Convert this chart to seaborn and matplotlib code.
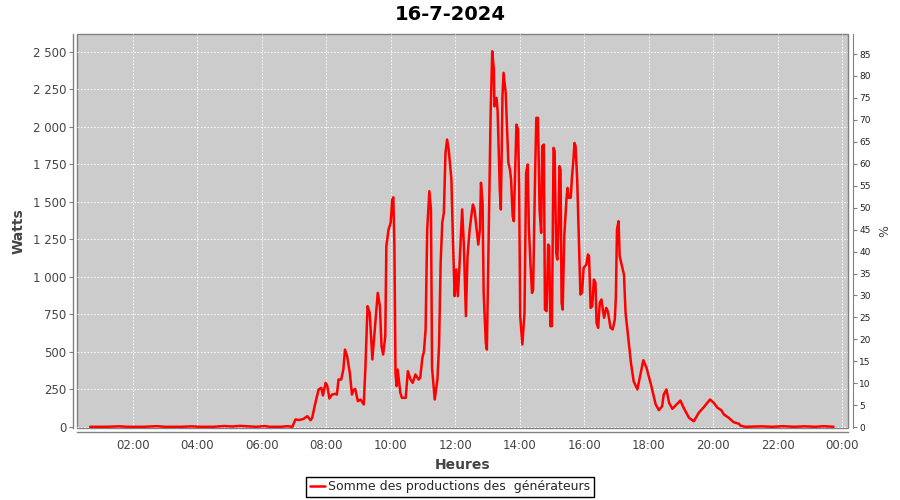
import matplotlib
matplotlib.use("Agg")
import matplotlib.pyplot as plt
import seaborn as sns
import pandas as pd
from matplotlib.ticker import FuncFormatter, FixedLocator, MultipleLocator

# --- données (heure, watts) ---
times = [
    "00:41", "01:10", "01:35", "01:50", "02:20", "02:45", "03:00", "03:30", "03:50", "04:05",
    "04:30", "04:50", "05:05", "05:20", "05:35", "05:50", "06:05", "06:15", "06:35", "06:48",
    "06:57", "07:03", "07:10", "07:18", "07:25", "07:31", "07:34", "07:40", "07:46", "07:51",
    "07:54", "07:59", "08:02", "08:06", "08:11", "08:17", "08:20", "08:23", "08:28", "08:32",
    "08:35", "08:39", "08:44", "08:48", "08:50", "08:54", "08:59", "09:04", "09:10", "09:13",
    "09:17", "09:21", "09:26", "09:32", "09:36", "09:40", "09:43", "09:46", "09:50", "09:52",
    "09:56", "10:00", "10:03", "10:05", "10:07", "10:09", "10:11", "10:13", "10:18", "10:21",
    "10:28", "10:32", "10:37", "10:41", "10:46", "10:52", "10:55", "10:59", "11:02", "11:05",
    "11:08", "11:12", "11:15", "11:17", "11:22", "11:27", "11:30", "11:33", "11:36", "11:39",
    "11:42", "11:45", "11:48", "11:53", "11:56", "11:59", "12:02", "12:05", "12:08", "12:13",
    "12:16", "12:20", "12:23", "12:27", "12:30", "12:33", "12:36", "12:40", "12:43", "12:46",
    "12:48", "12:51", "12:53", "12:57", "12:59", "13:03", "13:06", "13:09", "13:12", "13:13",
    "13:17", "13:19", "13:23", "13:25", "13:28", "13:30", "13:34", "13:39", "13:42", "13:44",
    "13:47", "13:49", "13:52", "13:54", "13:57", "13:59", "14:01", "14:05", "14:09", "14:12",
    "14:15", "14:17", "14:20", "14:23", "14:25", "14:29", "14:31", "14:34", "14:37", "14:40",
    "14:42", "14:45", "14:47", "14:50", "14:53", "14:55", "14:57", "15:00", "15:03", "15:05",
    "15:08", "15:10", "15:12", "15:14", "15:16", "15:18", "15:20", "15:23", "15:27", "15:29",
    "15:31", "15:35", "15:37", "15:40", "15:42", "15:44", "15:47", "15:50", "15:53", "15:56",
    "15:59", "16:04", "16:07", "16:09", "16:12", "16:15", "16:18", "16:21", "16:23", "16:26",
    "16:29", "16:32", "16:37", "16:41", "16:44", "16:49", "16:53", "16:57", "16:59", "17:01",
    "17:04", "17:06", "17:09", "17:14", "17:17", "17:19", "17:23", "17:27", "17:32", "17:39",
    "17:44", "17:50", "17:56", "18:05", "18:13", "18:19", "18:25", "18:28", "18:33", "18:38",
    "18:44", "18:52", "18:59", "19:05", "19:15", "19:24", "19:33", "19:43", "19:54", "20:01",
    "20:08", "20:15", "20:20", "20:29", "20:38", "20:48", "20:51", "21:00", "21:30", "21:50",
    "22:10", "22:30", "22:50", "23:10", "23:25", "23:44",
]
watts = [
    0, 0, 3, 0, 0, 4, 0, 0, 3, 0,
    0, 5, 2, 6, 3, 0, 5, 0, 0, 4,
    0, 49, 45, 53, 71, 44, 60, 160, 249, 260,
    209, 293, 275, 189, 215, 220, 215, 315, 315, 382,
    515, 471, 360, 215, 240, 253, 171, 182, 149, 393,
    804, 760, 449, 715, 893, 804, 537, 482, 604, 1204,
    1315, 1360, 1515, 1530, 1204, 360, 271, 382, 227, 193,
    193, 371, 315, 293, 349, 315, 327, 460, 504, 649,
    1315, 1571, 1449, 393, 182, 315, 537, 1093, 1360, 1427,
    1827, 1915, 1849, 1649, 1227, 871, 1049, 871, 1071, 1449,
    1227, 738, 1138, 1315, 1404, 1482, 1449, 1315, 1215, 1315,
    1627, 1493, 893, 560, 515, 1427, 2093, 2504, 2382, 2137,
    2193, 2104, 1582, 1449, 2204, 2360, 2227, 1760, 1715, 1649,
    1404, 1371, 1760, 2015, 1982, 1600, 738, 549, 760, 1693,
    1749, 1337, 1093, 893, 915, 1738, 2060, 2060, 1449, 1293,
    1871, 1882, 782, 771, 1215, 1204, 671, 671, 1860, 1838,
    1160, 1115, 1315, 1738, 1715, 827, 782, 1271, 1515, 1593,
    1527, 1527, 1649, 1782, 1893, 1871, 1649, 1271, 882, 893,
    1060, 1082, 1149, 1138, 793, 804, 982, 960, 693, 660,
    827, 849, 727, 793, 771, 660, 649, 715, 871, 1315,
    1371, 1138, 1093, 1015, 760, 693, 565, 427, 304, 249,
    337, 444, 393, 271, 149, 111, 137, 215, 249, 160,
    120, 149, 175, 127, 60, 37, 93, 133, 182, 160,
    127, 111, 82, 60, 31, 20, 7, 0, 3, 0,
    4, 0, 3, 0, 4, 0,
]

x_ticks = [2, 4, 6, 8, 10, 12, 14, 16, 18, 20, 22, 24]
x_labels = ["02:00", "04:00", "06:00", "08:00", "10:00", "12:00",
            "14:00", "16:00", "18:00", "20:00", "22:00", "00:00"]
pct_ticks = list(range(0, 90, 5))

series_name = "Somme des productions des  générateurs"

df = pd.DataFrame({"heure": times, "watts": watts})
df["h"] = pd.to_timedelta(df["heure"] + ":00") / pd.Timedelta(hours=1)

sns.set_style("white", {
    "axes.facecolor": "#cccccc",
    "axes.edgecolor": "#808080",
    "grid.color": "white",
})
plt.rcParams["font.family"] = ["DejaVu Sans"]

fig = plt.figure(figsize=(9, 5), dpi=100)
ax = fig.add_axes([0.0859, 0.144, 0.8567, 0.7874])

sns.lineplot(data=df, x="h", y="watts", color="#ff0000", lw=1.8, ax=ax, label=series_name)

ax.set_xlim(0.285, 24.19)
ax.set_ylim(-8, 2617)

ax.xaxis.set_major_locator(FixedLocator(x_ticks))
ax.set_xticklabels(x_labels)
ax.yaxis.set_major_locator(MultipleLocator(250))
ax.yaxis.set_major_formatter(FuncFormatter(lambda v, p: f"{int(v):,}".replace(",", " ")))

ax.grid(True, color="white", linestyle=(0, (2, 2)), linewidth=0.6)
ax.set_axisbelow(True)

# cadre de la zone de tracé + axes décalés (style JFreeChart)
ax.patch.set_edgecolor("#808080")
ax.patch.set_linewidth(1.0)
for s in ["top", "right"]:
    ax.spines[s].set_visible(False)
for s in ["left", "bottom"]:
    ax.spines[s].set_position(("outward", 3))
    ax.spines[s].set_color("#808080")
    ax.spines[s].set_linewidth(1.0)

ax.tick_params(axis="both", direction="out", length=3, width=0.8, color="#808080",
               labelsize=8.5, labelcolor="#444444", pad=2)

ax.set_xlabel("Heures", fontsize=10, fontweight="bold", color="#444444", labelpad=4)
ax.set_ylabel("Watts", fontsize=10, fontweight="bold", color="#444444", labelpad=5)
fig.text(0.5, 0.972, "16-7-2024", fontsize=14, fontweight="bold", color="black",
         ha="center", va="center")

# axe secondaire en %
ax2 = ax.twinx()
ax2.set_ylim(-0.2, 89.5)
ax2.yaxis.set_major_locator(FixedLocator(pct_ticks))
ax2.patch.set_visible(False)
for s in ["top", "left", "bottom"]:
    ax2.spines[s].set_visible(False)
ax2.spines["right"].set_position(("outward", 3))
ax2.spines["right"].set_color("#808080")
ax2.tick_params(axis="y", direction="out", length=3, width=0.8, color="#808080",
                labelsize=6.5, labelcolor="#222222", pad=2)
ax2.set_ylabel("%", fontsize=9, color="#444444", labelpad=5)

handles, labels = ax.get_legend_handles_labels()
ax.get_legend().remove()
leg = fig.legend(handles, labels, loc="lower center", bbox_to_anchor=(0.5, 0.002),
                 fontsize=9, frameon=True, fancybox=False, edgecolor="black",
                 facecolor="white", framealpha=1, handlelength=1.2, handletextpad=0.3,
                 borderpad=0.25, borderaxespad=0.2)
leg.get_frame().set_linewidth(1.0)

fig.savefig("out.png", dpi=100)
